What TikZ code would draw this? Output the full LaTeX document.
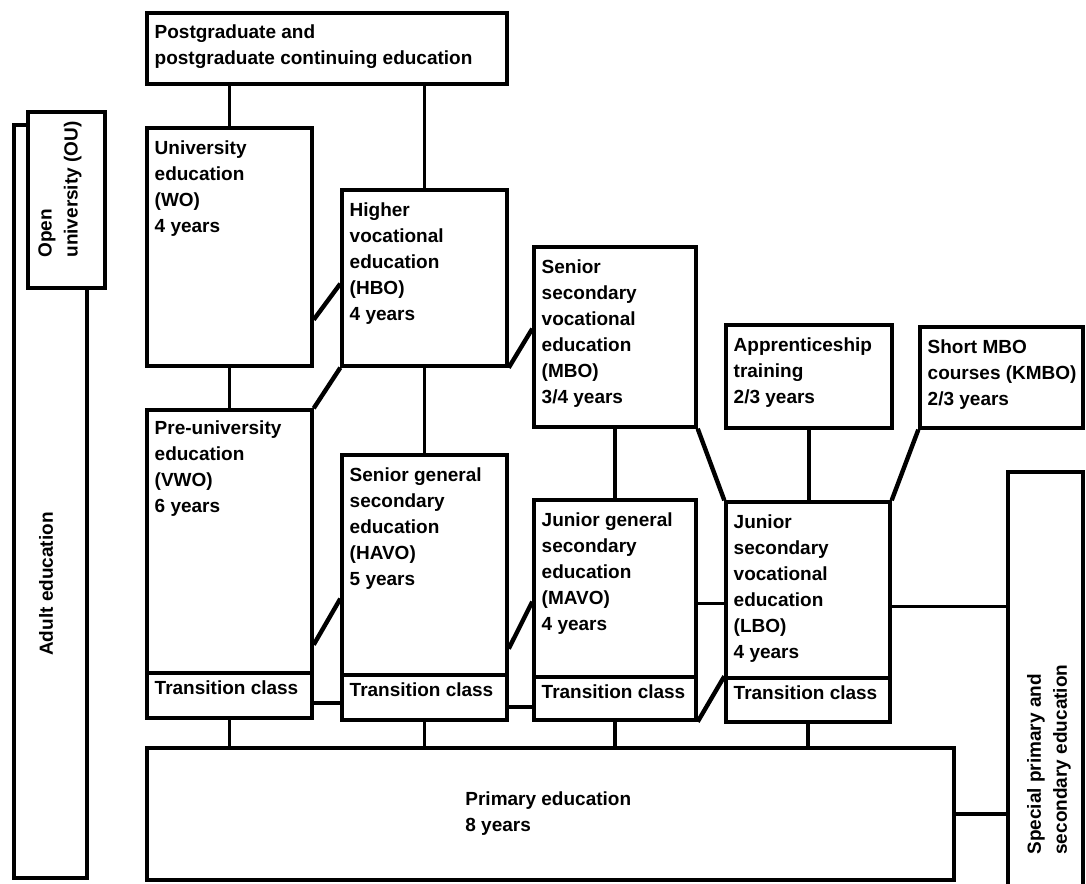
\documentclass[tikz,border=0pt]{standalone}
\usepackage{fontspec}
\setsansfont{Liberation Sans}
\usetikzlibrary{fit}

\tikzset{
  blk/.style={draw,line width=1.7pt,fill=white,inner sep=0pt},
  txt/.style={anchor=north west,inner sep=0pt,align=left,
    font=\sffamily\bfseries\fontsize{9.5}{13}\selectfont},
  link/.style={line width=1.7pt},
  slant/.style={line width=2.2pt},
}

\begin{document}
\begin{tikzpicture}[x=0.5pt,y=-0.5pt]
  \useasboundingbox (0,0) rectangle (1086,883);

  % side columns
  \node[blk,fit={(14,125) (87,878)}] (adult) {};
  \node[blk,fit={(28,112) (105,288)}] (ou) {};
  \node[blk,fit={(1008,472) (1083,886)}] (spec) {};

  % higher education
  \node[blk,fit={(147,13) (507,84)}] (pg) {};
  \node[blk,fit={(147,128) (312,366)}] (wo) {};
  \node[blk,fit={(342,190) (507,366)}] (hbo) {};
  \node[blk,fit={(534,247) (696,427)}] (mbo) {};
  \node[blk,fit={(726,325) (892,428)}] (app) {};
  \node[blk,fit={(920,327) (1083,428)}] (kmbo) {};

  % secondary education
  \node[blk,fit={(147,410) (312,673)}] (vwo) {};
  \node[blk,fit={(147,673) (312,718)}] (vwot) {};
  \node[blk,fit={(342,455) (507,675)}] (havo) {};
  \node[blk,fit={(342,675) (507,720)}] (havot) {};
  \node[blk,fit={(534,500) (696,677)}] (mavo) {};
  \node[blk,fit={(534,677) (696,720)}] (mavot) {};
  \node[blk,fit={(726,502) (890,678)}] (lbo) {};
  \node[blk,fit={(726,678) (890,722)}] (lbot) {};

  % primary education
  \node[blk,fit={(147,748) (954,880)}] (prim) {};

  % texts
  \node[txt] (pg-t) at ([shift={(4.5pt,-6.5pt)}]pg.north west)
    {Postgraduate and\\postgraduate continuing education};
  \node[txt] (wo-t) at ([shift={(4.5pt,-7pt)}]wo.north west)
    {University\\education\\(WO)\\4 years};
  \node[txt] (hbo-t) at ([shift={(4.5pt,-7pt)}]hbo.north west)
    {Higher\\vocational\\education\\(HBO)\\4 years};
  \node[txt] (mbo-t) at ([shift={(4.5pt,-7pt)}]mbo.north west)
    {Senior\\secondary\\vocational\\education\\(MBO)\\3/4 years};
  \node[txt] (app-t) at ([shift={(4.5pt,-7pt)}]app.north west)
    {Apprenticeship\\training\\2/3 years};
  \node[txt] (kmbo-t) at ([shift={(4.5pt,-7pt)}]kmbo.north west)
    {Short MBO\\courses (KMBO)\\2/3 years};
  \node[txt] (vwo-t) at ([shift={(4.5pt,-6pt)}]vwo.north west)
    {Pre-university\\education\\(VWO)\\6 years};
  \node[txt] (havo-t) at ([shift={(4.5pt,-7pt)}]havo.north west)
    {Senior general\\secondary\\education\\(HAVO)\\5 years};
  \node[txt] (mavo-t) at ([shift={(4.5pt,-7pt)}]mavo.north west)
    {Junior general\\secondary\\education\\(MAVO)\\4 years};
  \node[txt] (lbo-t) at ([shift={(4.5pt,-7pt)}]lbo.north west)
    {Junior\\secondary\\vocational\\education\\(LBO)\\4 years};
  \node[txt] (vwot-t) at ([shift={(4.5pt,-4.5pt)}]vwot.north west) {Transition class};
  \node[txt] (havot-t) at ([shift={(4.5pt,-4.5pt)}]havot.north west) {Transition class};
  \node[txt] (mavot-t) at ([shift={(4.5pt,-4.5pt)}]mavot.north west) {Transition class};
  \node[txt] (lbot-t) at ([shift={(4.5pt,-4.5pt)}]lbot.north west) {Transition class};
  \node[txt] (prim-t) at (465,791) {Primary education\\8 years};
  \node[txt,anchor=center,rotate=90] (adult-t) at (46,584) {Adult education};
  \node[txt,anchor=west,rotate=90] (ou-t) at (60,258) {Open\\university (OU)};
  \node[txt,anchor=west,rotate=90] (spec-t) at (1049,855)
    {Special primary and\\secondary education};

  % vertical links
  \draw[link] (wo.north) -- (wo.north |- pg.south);
  \draw[link] (hbo.north) -- (hbo.north |- pg.south);
  \draw[link] (wo.south) -- (vwo.north);
  \draw[link] (hbo.south) -- (havo.north);
  \draw[link] (mbo.south) -- (mavo.north);
  \draw[link] (app.south) -- (app.south |- lbo.north);
  \draw[link] (vwot.south) -- (vwot.south |- prim.north);
  \draw[link] (havot.south) -- (havot.south |- prim.north);
  \draw[link] (mavot.south) -- (mavot.south |- prim.north);
  \draw[link] (lbot.south) -- (lbot.south |- prim.north);

  % horizontal links
  \draw[link] ([yshift=-3.75pt]vwot.east) coordinate (h1) -- (h1 -| havot.west);
  \draw[link] ([yshift=-4.75pt]havot.east) coordinate (h2) -- (h2 -| mavot.west);
  \draw[link] ([yshift=37.5pt]mavo.south east) coordinate (h3) -- (h3 -| lbo.west);
  \draw[link] ([yshift=36.5pt]lbo.south east) coordinate (h4) -- (h4 -| spec.west);
  \draw[link] (prim.east) -- (prim.east -| spec.west);

  % slanted links
  \draw[slant] ([yshift=24pt]wo.south east) -- ([yshift=42pt]hbo.south west);
  \draw[slant] (hbo.south west) -- (vwo.north east);
  \draw[slant] (hbo.south east) -- ([yshift=50pt]mbo.south west);
  \draw[slant] ([yshift=15pt]vwo.south east) -- ([yshift=39pt]havo.south west);
  \draw[slant] ([yshift=14pt]havo.south east) -- ([yshift=38.5pt]mavo.south west);
  \draw[slant] (mavot.south east) -- (lbot.north west);
  \draw[slant] (mbo.south east) -- (lbo.north west);
  \draw[slant] (kmbo.south west) -- (lbo.north east);
\end{tikzpicture}
\end{document}
